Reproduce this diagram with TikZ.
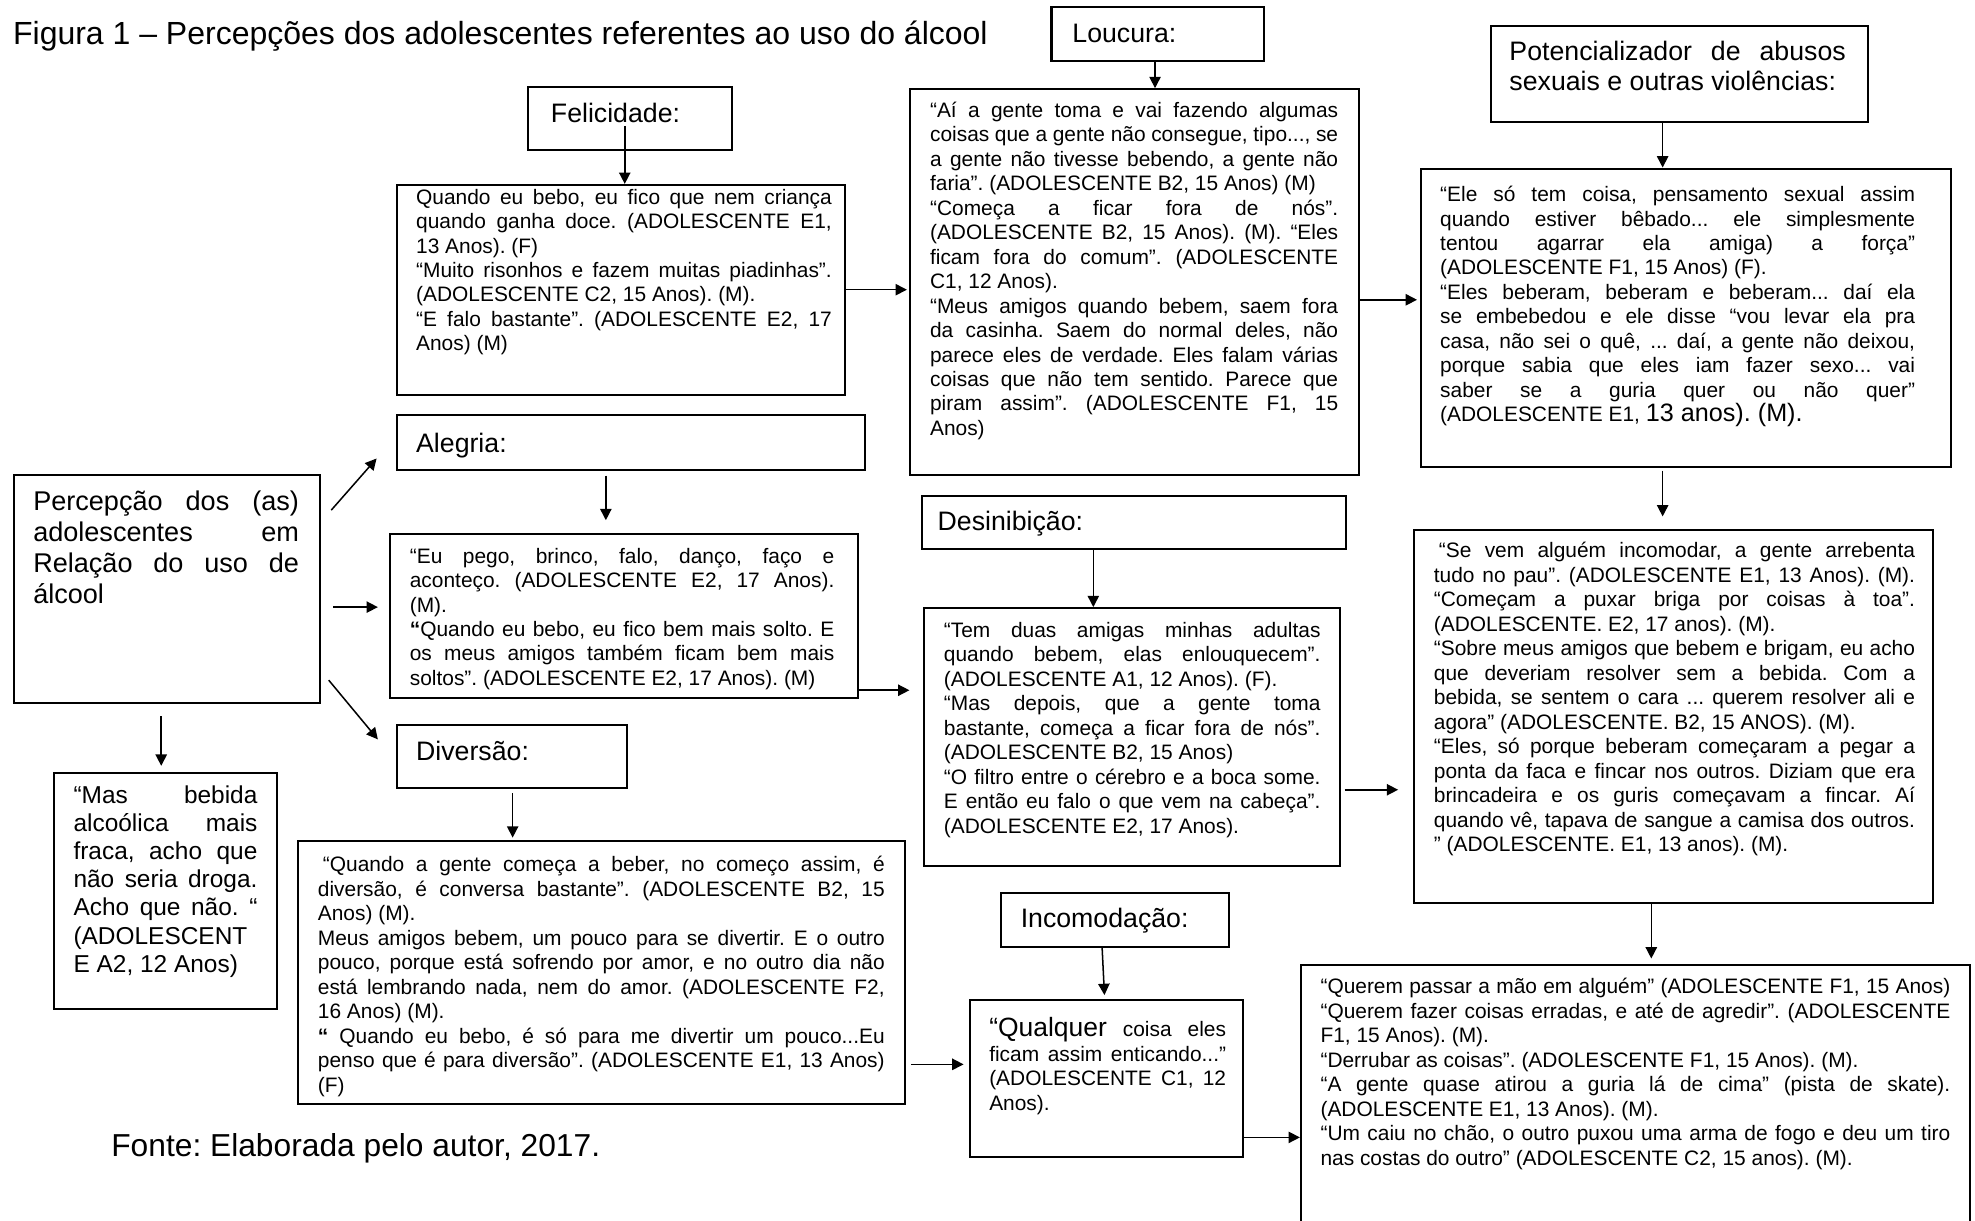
\documentclass[tikz,border=0pt]{standalone}
\usepackage{fontspec}
\setmainfont{Liberation Sans}
\usetikzlibrary{arrows.meta}
\frenchspacing
\newcommand\ns{\spaceskip=0pt\xspaceskip=0pt\relax}
\newcommand\J[1]{\makebox[\hsize][s]{\ns#1}\\}
\newcommand\fbody{\fontsize{8.3}{9.72}\selectfont}
\newcommand\flabel{\fontsize{10.6}{12}\selectfont}
\newcommand\bx[5]{\node[bx, minimum width={(#4-#2)*0.5pt}, minimum height={(#5-#3)*0.5pt}] (#1) at (#2,#3) {};}
\tikzset{
  bx/.style={draw, line width=0.8pt, anchor=north west, inner sep=0pt},
  tx/.style={anchor=base west, inner sep=0pt, align=left, font=\fbody},
  lb/.style={anchor=base west, inner sep=0pt, font=\flabel},
  arr/.style={line width=0.6pt, -{Triangle[length=4.5pt,width=4.5pt]}}
}
\begin{document}
\begin{tikzpicture}[x=0.5pt,y=-0.5pt]
\fill[white] (0,0) rectangle (1568,969);
\useasboundingbox (0,0) rectangle (1568,969);

% title and source
\node[anchor=base west, inner sep=0pt, font=\fontsize{12.7}{15}\selectfont] (title) at (10,35) {Figura 1 – Percepções dos adolescentes referentes ao uso do álcool};
\node[anchor=base west, inner sep=0pt, font=\fontsize{12.6}{15}\selectfont] (fonte) at (88,918) {Fonte: Elaborada pelo autor, 2017.};

% boxes
\bx{fel}{418}{68}{580}{118}
\bx{lou}{834}{5}{1003}{48}
\bx{pot}{1183}{20}{1482}{96}
\bx{ale}{314}{329}{686}{372}
\bx{des}{731}{393}{1068}{435}
\bx{div}{314}{575}{497}{625}
\bx{inc}{794}{708}{975}{751}
\bx{fq}{314}{146}{670}{313}
\bx{lq}{722}{70}{1078}{376}
\bx{pq}{1127}{133}{1548}{370}
\bx{viol}{1122}{420}{1534}{716}
\bx{br}{1032}{765}{1563}{985}
\bx{aq}{309}{423}{680}{553}
\bx{dq}{733}{482}{1063}{687}
\bx{vq}{236}{667}{718}{876}
\bx{iq}{769}{793}{986}{918}
\bx{perc}{10}{376}{253}{557}
\bx{mas}{42}{613}{219}{800}

% label texts
\node[lb] (fel-t) at (437,97) {Felicidade:};
\node[lb] (lou-t) at (851,34) {Loucura:};
\node[tx, font=\fontsize{10.6}{12}\selectfont, text width=133.5pt] (pot-t) at (1198,48) {\ns\J{Potencializador de abusos}sexuais e outras violências:};
\node[lb] (ale-t) at (330,359) {Alegria:};
\node[lb] (des-t) at (744,421) {Desinibição:};
\node[lb] (div-t) at (330,604) {Diversão:};
\node[lb] (inc-t) at (810,736) {Incomodação:};

% quote texts
\node[tx, text width=165pt] (fq-t) at (330,162) {\ns
\J{Quando eu bebo, eu fico que nem criança}
\J{quando ganha doce. (ADOLESCENTE E1,}
13 Anos). (F)\\
\J{“Muito risonhos e fazem muitas piadinhas”.}
(ADOLESCENTE C2, 15 Anos). (M).\\
\J{“E falo bastante”. (ADOLESCENTE E2, 17}
Anos) (M)};

\node[tx, text width=162pt] (lq-t) at (738,93) {\ns
\J{“Aí a gente toma e vai fazendo algumas}
\J{coisas que a gente não consegue, tipo..., se}
\J{a gente não tivesse bebendo, a gente não}
faria”. (ADOLESCENTE B2, 15 Anos) (M)\\
\J{“Começa a ficar fora de nós”.}
\J{(ADOLESCENTE B2, 15 Anos). (M). “Eles}
\J{ficam fora do comum”. (ADOLESCENTE}
C1, 12 Anos).\\
\J{“Meus amigos quando bebem, saem fora}
\J{da casinha. Saem do normal deles, não}
\J{parece eles de verdade. Eles falam várias}
\J{coisas que não tem sentido. Parece que}
\J{piram assim”. (ADOLESCENTE F1, 15}
Anos)};

\node[tx, text width=188.5pt] (pq-t) at (1143,160) {\ns
\J{“Ele só tem coisa, pensamento sexual assim}
\J{quando estiver bêbado... ele simplesmente}
\J{tentou agarrar ela amiga) a força”}
(ADOLESCENTE F1, 15 Anos) (F).\\
\J{“Eles beberam, beberam e beberam... daí ela}
\J{se embebedou e ele disse “vou levar ela pra}
\J{casa, não sei o quê, ... daí, a gente não deixou,}
\J{porque sabia que eles iam fazer sexo... vai}
\J{saber se a guria quer ou não quer”}
(ADOLESCENTE E1, {\fontsize{10}{12}\selectfont 13 anos). (M).}};

\node[tx, text width=191pt] (viol-t) at (1138,443) {\ns
\J{\hspace*{2pt}“Se vem alguém incomodar, a gente arrebenta}
\J{tudo no pau”. (ADOLESCENTE E1, 13 Anos). (M).}
\J{“Começam a puxar briga por coisas à toa”.}
(ADOLESCENTE. E2, 17 anos). (M).\\
\J{“Sobre meus amigos que bebem e brigam, eu acho}
\J{que deveriam resolver sem a bebida. Com a}
\J{bebida, se sentem o cara ... querem resolver ali e}
agora” (ADOLESCENTE. B2, 15 ANOS). (M).\\
\J{“Eles, só porque beberam começaram a pegar a}
\J{ponta da faca e fincar nos outros. Diziam que era}
\J{brincadeira e os guris começavam a fincar. Aí}
\J{quando vê, tapava de sangue a camisa dos outros.}
” (ADOLESCENTE. E1, 13 anos). (M).};

\node[tx, text width=250pt] (br-t) at (1048,789) {\ns
\J{“Querem passar a mão em alguém” (ADOLESCENTE F1, 15 Anos)}
\J{“Querem fazer coisas erradas, e até de agredir”. (ADOLESCENTE}
F1, 15 Anos). (M).\\
“Derrubar as coisas”. (ADOLESCENTE F1, 15 Anos). (M).\\
\J{“A gente quase atirou a guria lá de cima” (pista de skate).}
(ADOLESCENTE E1, 13 Anos). (M).\\
\J{“Um caiu no chão, o outro puxou uma arma de fogo e deu um tiro}
nas costas do outro” (ADOLESCENTE C2, 15 anos). (M).};

\node[tx, text width=168.5pt] (aq-t) at (325,447) {\ns
\J{“Eu pego, brinco, falo, danço, faço e}
\J{aconteço. (ADOLESCENTE E2, 17 Anos).}
(M).\\
\J{{\bfseries “}Quando eu bebo, eu fico bem mais solto. E}
\J{os meus amigos também ficam bem mais}
soltos”. (ADOLESCENTE E2, 17 Anos). (M)};

\node[tx, text width=149.5pt] (dq-t) at (749,506) {\ns
\J{“Tem duas amigas minhas adultas}
\J{quando bebem, elas enlouquecem”.}
(ADOLESCENTE A1, 12 Anos). (F).\\
\J{“Mas depois, que a gente toma}
\J{bastante, começa a ficar fora de nós”.}
(ADOLESCENTE B2, 15 Anos)\\
\J{“O filtro entre o cérebro e a boca some.}
\J{E então eu falo o que vem na cabeça”.}
(ADOLESCENTE E2, 17 Anos).};

\node[tx, text width=225pt] (vq-t) at (252,692) {\ns
\J{\hspace*{2pt}“Quando a gente começa a beber, no começo assim, é}
\J{diversão, é conversa bastante”. (ADOLESCENTE B2, 15}
Anos) (M).\\
\J{Meus amigos bebem, um pouco para se divertir. E o outro}
\J{pouco, porque está sofrendo por amor, e no outro dia não}
\J{está lembrando nada, nem do amor. (ADOLESCENTE F2,}
16 Anos) (M).\\
\J{{\bfseries “} Quando eu bebo, é só para me divertir um pouco...Eu}
\J{penso que é para diversão”. (ADOLESCENTE E1, 13 Anos)}
(F)};

\node[tx, text width=94pt] (iq-t) at (785,823) {\ns
\J{{\fontsize{10.5}{12}\selectfont “Qualquer} coisa eles}
\J{ficam assim enticando...”}
\J{(ADOLESCENTE C1, 12}
Anos).};

\node[tx, font=\fontsize{10.75}{12.35}\selectfont, text width=105.5pt] (perc-t) at (26,405) {\ns
\J{Percepção dos (as)}
\J{adolescentes em}
\J{Relação do uso de}
álcool};

\node[tx, font=\fontsize{9.7}{11.15}\selectfont, text width=73pt] (mas-t) at (58,638) {\ns
\J{“Mas bebida}
\J{alcoólica mais}
\J{fraca, acho que}
\J{não seria droga.}
\J{Acho que não. “}
(ADOLESCENT\\
E A2, 12 Anos)};

% connectors
\coordinate (felstart) at (496,100);
\coordinate (d1s) at (263,405);
\coordinate (d1e) at (299,364);
\coordinate (d2s) at (261,540);
\coordinate (d2e) at (300,587);
\draw[arr] (felstart) -- (fq.north -| felstart);
\draw[arr, shorten >=1pt] (fq.east |- 0,230) -- (lq.west |- 0,230);
\draw[arr] (lou.south -| 917,0) -- (lq.north -| 917,0);
\draw[arr, shorten >=1pt] (lq.east |- 0,238) -- (pq.west |- 0,238);
\draw[arr] (pot.south -| 1320,0) -- (pq.north -| 1320,0);
\draw[arr, shorten <=1pt, shorten >=5pt] (pq.south -| 1320,0) -- (viol.north -| 1320,0);
\draw[arr, shorten >=2pt] (viol.south -| 1311,0) -- (br.north -| 1311,0);
\draw[arr] (d1s) -- (d1e);
\draw[arr, shorten <=5pt, shorten >=4.5pt] (perc.east |- 0,482) -- (aq.west |- 0,482);
\draw[arr] (d2s) -- (d2e);
\draw[arr, shorten <=5pt, shorten >=2.5pt] (perc.south -| 128,0) -- (mas.north -| 128,0);
\draw[arr, shorten <=2pt, shorten >=5pt] (ale.south -| 481,0) -- (aq.north -| 481,0);
\draw[arr, shorten >=5.5pt] (aq.east |- 0,548) -- (dq.west |- 0,548);
\draw[arr] (des.south -| 868,0) -- (dq.north -| 868,0);
\draw[arr, shorten <=1.5pt, shorten >=6pt] (dq.east |- 0,627) -- (viol.west |- 0,627);
\draw[arr, shorten <=1.5pt, shorten >=1pt] (div.south -| 407,0) -- (vq.north -| 407,0);
\draw[arr, shorten <=2pt, shorten >=2pt] (vq.east |- 0,845) -- (iq.west |- 0,845);
\draw[arr, shorten >=1.5pt] (inc.south -| 875,0) -- (iq.north -| 877,0);
\draw[arr] (iq.east |- 0,903) -- (br.west |- 0,903);
\end{tikzpicture}
\end{document}
